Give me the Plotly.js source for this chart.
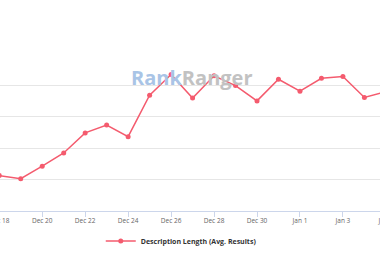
<!DOCTYPE html>
<html>
<head>
<meta charset="utf-8">
<script src="https://cdn.plot.ly/plotly-3.0.1.min.js"></script>
<style>
html,body{margin:0;padding:0;width:380px;height:253px;overflow:hidden;background:#fff;position:relative}
#chart{position:absolute;left:-40px;top:0;width:460px;height:253px}
</style>
</head>
<body>
<div id="chart"></div>
<script>
const dates = ['2018-12-18','2018-12-19','2018-12-20','2018-12-21','2018-12-22','2018-12-23','2018-12-24','2018-12-25','2018-12-26','2018-12-27','2018-12-28','2018-12-29','2018-12-30','2018-12-31','2019-01-01','2019-01-02','2019-01-03','2019-01-04','2019-01-05'];
const descLength = [131.3, 130.3, 134.3, 138.5, 144.9, 147.4, 143.7, 156.9, 163.5, 156.0, 163.1, 160.0, 155.1, 162.0, 158.2, 162.3, 162.9, 156.2, 158.0];
const seriesName = 'Description Length (Avg. Results)';

const trace = {
  x: dates, y: descLength, name: seriesName, type: 'scatter', mode: 'lines+markers',
  line: {color: '#f45b6e', width: 1.5},
  marker: {color: '#f45b6e', size: 5, symbol: 'circle'},
  showlegend: true
};

const layout = {
  width: 460, height: 253,
  margin: {l: 0, r: 0, t: 54, b: 42},
  paper_bgcolor: '#fff', plot_bgcolor: '#fff',
  font: {family: 'Open Sans, sans-serif', color: '#666'},
  xaxis: {
    type: 'date', range: ['2018-12-16 04:09', '2019-01-06 14:07'],
    tick0: '2018-12-18', dtick: 2*86400000, tickformat: '%b %-d',
    showgrid: false, showline: true, linecolor: '#ccd6eb', linewidth: 1,
    ticks: 'outside', ticklen: 5, tickcolor: '#ccd6eb', tickwidth: 1,
    ticklabelstandoff: -2,
    tickfont: {size: 6.5, color: '#666'}, zeroline: false, fixedrange: true,
    automargin: false
  },
  yaxis: {
    range: [120, 170.05], dtick: 10, tick0: 120,
    showgrid: true, gridcolor: '#e6e6e6', gridwidth: 1,
    showticklabels: false, zeroline: false, ticks: '', fixedrange: true,
    automargin: false
  },
  showlegend: true,
  legend: {
    orientation: 'h', x: 0.306, xanchor: 'left',
    yref: 'container', y: 0.047, yanchor: 'middle',
    font: {size: 7, color: '#333', family: 'Open Sans, sans-serif', weight: 'bold'},
    bgcolor: 'rgba(0,0,0,0)'
  },
  annotations: [{
    xref: 'paper', yref: 'paper', x: 0.504, y: 0.849, xanchor: 'center', yanchor: 'middle',
    showarrow: false,
    text: '<span style="color:#a9c4e6">Rank</span><span style="color:#c2c2c2">Ranger</span>',
    font: {size: 20, family: 'Open Sans, sans-serif', weight: 'bold'}
  }]
};

Plotly.newPlot('chart', [trace], layout, {displayModeBar: false, staticPlot: true});
</script>
</body>
</html>
